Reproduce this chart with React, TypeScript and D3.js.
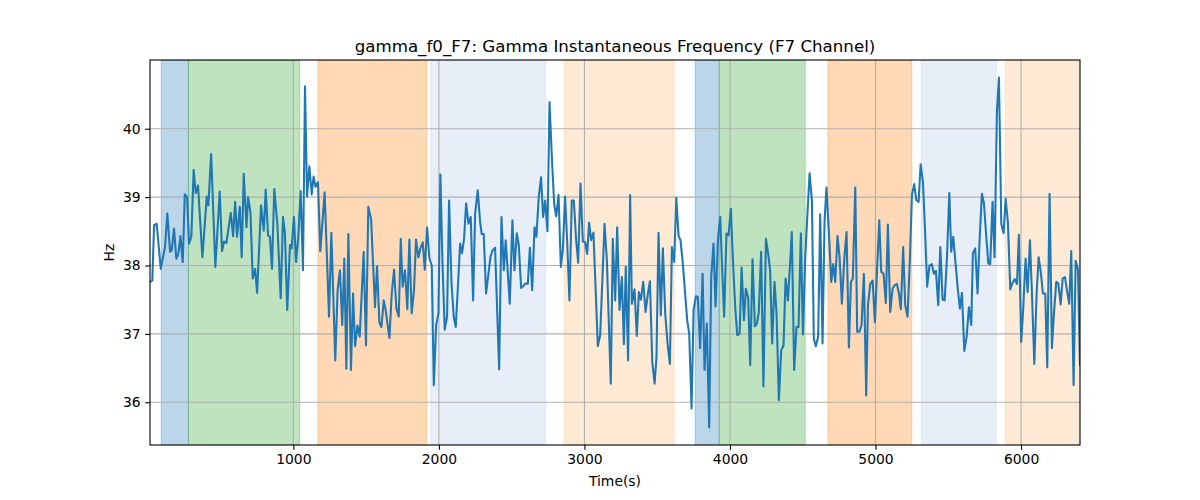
import { useEffect, useRef } from "react";
import * as d3 from "d3";

// time in seconds, instantaneous gamma frequency in Hz
const times = [
  15, 31, 43, 61, 89, 118, 134, 153, 164, 180, 196, 210, 224, 240, 254, 270, 283, 299, 315, 329,
  345, 375, 405, 416, 435, 464, 494, 510, 524, 540, 570, 586, 600, 613, 632, 645, 659, 678, 689, 705,
  721, 737, 751, 778, 797, 810, 826, 839, 853, 869, 890, 913, 929, 942, 958, 977, 988, 1004, 1018, 1034,
  1050, 1066, 1080, 1094, 1110, 1126, 1139, 1153, 1169, 1185, 1215, 1245, 1261, 1288, 1304, 1320, 1336, 1350, 1364, 1378,
  1396, 1410, 1424, 1440, 1456, 1483, 1499, 1515, 1534, 1561, 1575, 1591, 1605, 1621, 1634, 1660, 1676, 1692, 1708, 1724,
  1738, 1751, 1767, 1783, 1797, 1813, 1829, 1843, 1859, 1873, 1889, 1903, 1919, 1935, 1951, 1965, 1981, 1997, 2010, 2024,
  2040, 2056, 2070, 2086, 2102, 2116, 2146, 2159, 2173, 2187, 2203, 2219, 2235, 2249, 2267, 2283, 2294, 2308, 2324, 2354,
  2368, 2386, 2414, 2430, 2446, 2459, 2487, 2505, 2519, 2535, 2549, 2565, 2581, 2595, 2611, 2625, 2641, 2657, 2670, 2686,
  2702, 2716, 2730, 2746, 2760, 2776, 2792, 2806, 2822, 2838, 2851, 2867, 2881, 2897, 2913, 2927, 2943, 2957, 2973, 2989,
  3005, 3019, 3032, 3046, 3062, 3078, 3092, 3108, 3124, 3138, 3154, 3167, 3181, 3195, 3211, 3225, 3241, 3257, 3271, 3284,
  3300, 3314, 3326, 3344, 3360, 3374, 3388, 3404, 3420, 3436, 3450, 3466, 3482, 3495, 3509, 3525, 3539, 3555, 3571, 3587,
  3601, 3617, 3631, 3647, 3660, 3676, 3692, 3706, 3720, 3736, 3750, 3766, 3779, 3795, 3812, 3825, 3841, 3857, 3871, 3887,
  3901, 3917, 3933, 3947, 3960, 3976, 3990, 4006, 4020, 4036, 4050, 4066, 4080, 4096, 4109, 4125, 4139, 4155, 4171, 4185,
  4198, 4214, 4230, 4247, 4260, 4276, 4290, 4306, 4320, 4336, 4352, 4368, 4382, 4398, 4412, 4425, 4441, 4457, 4471, 4487,
  4501, 4517, 4531, 4547, 4563, 4576, 4590, 4606, 4620, 4636, 4650, 4663, 4680, 4696, 4709, 4723, 4739, 4753, 4769, 4785,
  4801, 4817, 4831, 4844, 4861, 4874, 4890, 4904, 4920, 4936, 4948, 4964, 4980, 4996, 5010, 5026, 5039, 5055, 5071, 5085,
  5101, 5117, 5131, 5147, 5161, 5174, 5190, 5204, 5220, 5236, 5250, 5266, 5280, 5296, 5310, 5326, 5342, 5355, 5371, 5387,
  5401, 5415, 5431, 5445, 5461, 5475, 5491, 5507, 5520, 5534, 5550, 5566, 5580, 5594, 5610, 5626, 5642, 5658, 5669, 5685,
  5701, 5715, 5731, 5745, 5761, 5775, 5788, 5804, 5818, 5834, 5848, 5864, 5880, 5894, 5910, 5926, 5940, 5956, 5972, 5985,
  6001, 6015, 6031, 6045, 6061, 6075, 6091, 6107, 6121, 6137, 6150, 6166, 6180, 6196, 6212, 6226, 6242, 6256, 6272, 6286,
  6302, 6315, 6331, 6345, 6361, 6375, 6391, 6405,
];

const freqs = [
  37.76, 37.78, 38.59, 38.61, 37.95, 38.27, 38.76, 38.2, 38.22, 38.54, 38.1, 38.17, 38.43, 38.05, 39.04, 39.0, 38.32, 38.42, 39.4, 39.06,
  39.17, 38.12, 39.01, 38.88, 39.63, 37.98, 39.08, 38.21, 38.35, 38.33, 38.77, 38.43, 38.93, 38.42, 38.86, 38.12, 39.34, 38.56, 39.0, 38.78,
  37.81, 37.95, 37.6, 38.88, 38.51, 39.11, 38.44, 38.42, 37.95, 39.12, 38.61, 37.52, 38.71, 38.47, 37.35, 38.3, 38.25, 38.71, 38.05, 38.42,
  39.09, 37.93, 40.62, 39.01, 39.45, 39.04, 39.3, 39.15, 39.22, 38.21, 39.07, 37.25, 38.48, 36.61, 37.64, 37.93, 37.13, 38.1, 36.49, 38.46,
  36.47, 37.59, 36.82, 37.12, 36.96, 38.2, 36.83, 38.86, 38.68, 37.39, 37.99, 37.17, 37.1, 37.49, 37.35, 36.94, 37.59, 37.94, 37.37, 37.25,
  38.39, 37.69, 37.93, 37.36, 38.38, 37.3, 37.64, 38.38, 38.12, 38.25, 38.34, 37.94, 38.56, 38.1, 38.0, 36.25, 37.13, 37.3, 39.33, 38.08,
  37.06, 37.25, 38.95, 37.76, 37.25, 37.1, 38.32, 38.18, 38.39, 38.91, 38.61, 38.71, 37.49, 38.76, 39.1, 38.64, 38.46, 38.46, 37.59, 38.12,
  38.22, 38.26, 36.48, 38.71, 37.93, 38.37, 37.44, 38.66, 37.93, 38.47, 38.3, 37.67, 37.7, 37.74, 37.73, 38.26, 37.64, 38.56, 38.42, 39.0,
  39.29, 38.71, 38.95, 38.5, 40.39, 39.59, 38.9, 38.72, 39.03, 37.98, 38.22, 39.01, 38.37, 37.49, 38.95, 38.95, 38.37, 38.04, 39.2, 38.35,
  38.34, 38.17, 38.63, 38.37, 38.48, 37.59, 36.82, 36.98, 37.83, 38.61, 38.08, 37.2, 36.27, 38.39, 37.49, 38.56, 37.35, 37.83, 36.85, 37.98,
  36.61, 39.03, 37.44, 37.65, 36.97, 37.61, 37.5, 37.76, 37.32, 37.59, 37.77, 36.59, 36.27, 36.66, 38.48, 37.27, 38.25, 37.3, 36.86, 36.56,
  38.27, 38.05, 38.99, 38.43, 38.37, 38.03, 37.59, 37.2, 37.0, 35.91, 37.35, 37.55, 37.54, 36.79, 37.88, 36.47, 37.15, 35.63, 37.83, 38.32,
  37.4, 38.37, 38.71, 37.91, 37.25, 38.47, 38.44, 38.83, 38.08, 37.39, 36.98, 37.0, 37.97, 37.2, 37.66, 37.53, 36.54, 38.09, 37.11, 37.15,
  37.32, 38.2, 36.23, 38.39, 38.21, 37.93, 36.86, 37.76, 37.3, 36.03, 36.76, 36.83, 37.81, 37.49, 37.99, 38.49, 36.47, 37.1, 37.1, 38.47,
  36.99, 38.1, 38.71, 39.35, 38.95, 36.93, 36.82, 36.96, 38.75, 36.86, 38.66, 39.14, 38.47, 37.76, 38.02, 37.76, 38.43, 38.12, 37.44, 38.08,
  38.49, 36.8, 37.76, 37.81, 39.14, 37.03, 37.03, 37.13, 37.88, 36.1, 37.42, 37.73, 37.78, 37.17, 37.91, 38.66, 37.91, 37.88, 37.45, 38.6,
  37.32, 37.66, 37.71, 37.73, 37.59, 37.36, 38.27, 37.42, 37.25, 38.08, 39.03, 39.19, 38.96, 38.93, 39.48, 39.22, 38.42, 37.69, 38.0, 38.02,
  37.88, 37.92, 37.42, 38.27, 37.5, 37.49, 38.12, 39.06, 38.2, 38.42, 38.03, 37.64, 37.37, 37.6, 36.75, 36.96, 37.39, 37.13, 38.18, 38.25,
  37.59, 38.37, 39.05, 38.91, 38.42, 38.03, 38.02, 38.93, 38.12, 40.24, 40.75, 38.61, 38.47, 38.98, 38.62, 37.65, 37.74, 37.8, 37.73, 38.45,
  36.88, 37.37, 38.1, 37.61, 38.37, 37.59, 36.56, 37.59, 38.12, 37.88, 37.59, 37.59, 36.51, 39.05, 36.79, 37.3, 37.76, 37.74, 37.43, 37.81,
  37.83, 37.64, 37.44, 38.21, 36.25, 38.07, 37.94, 36.54,
];

// shaded segments: start, end, colour
const spanStarts = [92, 279, 1168, 1944, 2860, 3761, 3926, 4673, 5314, 5891];
const spanEnds = [279, 1044, 1917, 2735, 3617, 3926, 4517, 5250, 5830, 6420];
const spanColors = [
  "#1f77b4", "#2ca02c", "#ff7f0e", "#aec7e8", "#ffbb78",
  "#1f77b4", "#2ca02c", "#ff7f0e", "#aec7e8", "#ffbb78",
];

const xTicks = [1000, 2000, 3000, 4000, 5000, 6000];
const yTicks = [36, 37, 38, 39, 40];

const width = 1200;
const height = 500;
const margin = { left: 150, top: 60, right: 120, bottom: 55 };
const font = "'DejaVu Sans', sans-serif";
const labelSize = "13.9px";

const App = () => {
  const svgRef = useRef<SVGSVGElement | null>(null);

  useEffect(() => {
    if (!svgRef.current) return;
    const svg = d3.select(svgRef.current);
    svg.selectAll("*").remove();

    const innerWidth = width - margin.left - margin.right;
    const innerHeight = height - margin.top - margin.bottom;

    const data = times.map((t, i) => ({ t, v: freqs[i] }));

    const xScale = d3
      .scaleLinear()
      .domain(d3.extent(times) as [number, number])
      .range([0, innerWidth]);

    const [vMin, vMax] = d3.extent(freqs) as [number, number];
    const pad = (vMax - vMin) * 0.05;
    const yScale = d3
      .scaleLinear()
      .domain([vMin - pad, vMax + pad])
      .range([innerHeight, 0]);

    svg
      .append("rect")
      .attr("width", width)
      .attr("height", height)
      .attr("fill", "white");

    const defs = svg.append("defs");
    defs
      .append("clipPath")
      .attr("id", "plot-clip")
      .append("rect")
      .attr("width", innerWidth)
      .attr("height", innerHeight);

    const g = svg
      .append("g")
      .attr("transform", `translate(${margin.left},${margin.top})`);

    const plot = g.append("g").attr("clip-path", "url(#plot-clip)");

    plot
      .selectAll(".span")
      .data(spanStarts)
      .enter()
      .append("rect")
      .attr("class", "span")
      .attr("x", (d) => xScale(d))
      .attr("width", (d, i) => xScale(spanEnds[i]) - xScale(d))
      .attr("y", 0)
      .attr("height", innerHeight)
      .attr("fill", (_d, i) => spanColors[i])
      .attr("fill-opacity", 0.3)
      .attr("stroke", (_d, i) => spanColors[i])
      .attr("stroke-opacity", 0.3)
      .attr("stroke-width", 1);

    // grid
    plot
      .selectAll(".xgrid")
      .data(xTicks)
      .enter()
      .append("line")
      .attr("x1", (d) => xScale(d))
      .attr("x2", (d) => xScale(d))
      .attr("y1", 0)
      .attr("y2", innerHeight)
      .attr("stroke", "#b0b0b0")
      .attr("stroke-width", 1.1);
    plot
      .selectAll(".ygrid")
      .data(yTicks)
      .enter()
      .append("line")
      .attr("x1", 0)
      .attr("x2", innerWidth)
      .attr("y1", (d) => yScale(d))
      .attr("y2", (d) => yScale(d))
      .attr("stroke", "#b0b0b0")
      .attr("stroke-width", 1.1);

    const line = d3
      .line<{ t: number; v: number }>()
      .x((d) => xScale(d.t))
      .y((d) => yScale(d.v));

    plot
      .append("path")
      .datum(data)
      .attr("fill", "none")
      .attr("stroke", "#1f77b4")
      .attr("stroke-width", 2.08)
      .attr("stroke-linejoin", "round")
      .attr("stroke-linecap", "square")
      .attr("d", line);

    const xAxis = d3
      .axisBottom(xScale)
      .tickValues(xTicks)
      .tickSize(4.86)
      .tickPadding(4)
      .tickFormat((d) => String(d));
    g.append("g")
      .attr("transform", `translate(0,${innerHeight})`)
      .call(xAxis)
      .call((a) => a.select(".domain").remove())
      .call((a) => a.selectAll(".tick line").attr("stroke", "black").attr("stroke-width", 1.1))
      .call((a) =>
        a
          .selectAll("text")
          .attr("fill", "black")
          .attr("font-size", labelSize)
          .attr("font-family", font),
      );

    const yAxis = d3
      .axisLeft(yScale)
      .tickValues(yTicks)
      .tickSize(4.86)
      .tickPadding(4.5)
      .tickFormat((d) => String(d));
    g.append("g")
      .call(yAxis)
      .call((a) => a.select(".domain").remove())
      .call((a) => a.selectAll(".tick line").attr("stroke", "black").attr("stroke-width", 1.1))
      .call((a) =>
        a
          .selectAll("text")
          .attr("fill", "black")
          .attr("font-size", labelSize)
          .attr("font-family", font),
      );

    g.append("rect")
      .attr("width", innerWidth)
      .attr("height", innerHeight)
      .attr("fill", "none")
      .attr("stroke", "black")
      .attr("stroke-width", 1.1);

    svg
      .append("text")
      .attr("x", margin.left + innerWidth / 2)
      .attr("y", 52)
      .attr("text-anchor", "middle")
      .attr("font-size", "16.67px")
      .attr("font-family", font)
      .attr("fill", "black")
      .text("gamma_f0_F7: Gamma Instantaneous Frequency (F7 Channel)");

    svg
      .append("text")
      .attr("x", margin.left + innerWidth / 2)
      .attr("y", 486)
      .attr("text-anchor", "middle")
      .attr("font-size", labelSize)
      .attr("font-family", font)
      .attr("fill", "black")
      .text("Time(s)");

    svg
      .append("text")
      .attr("transform", `translate(114,${margin.top + innerHeight / 2}) rotate(-90)`)
      .attr("text-anchor", "middle")
      .attr("font-size", labelSize)
      .attr("font-family", font)
      .attr("fill", "black")
      .text("Hz");
  }, []);

  return (
    <svg
      ref={svgRef}
      width={width}
      height={height}
      style={{ position: "absolute", left: 0, top: 0, display: "block" }}
    />
  );
};

export default App;
